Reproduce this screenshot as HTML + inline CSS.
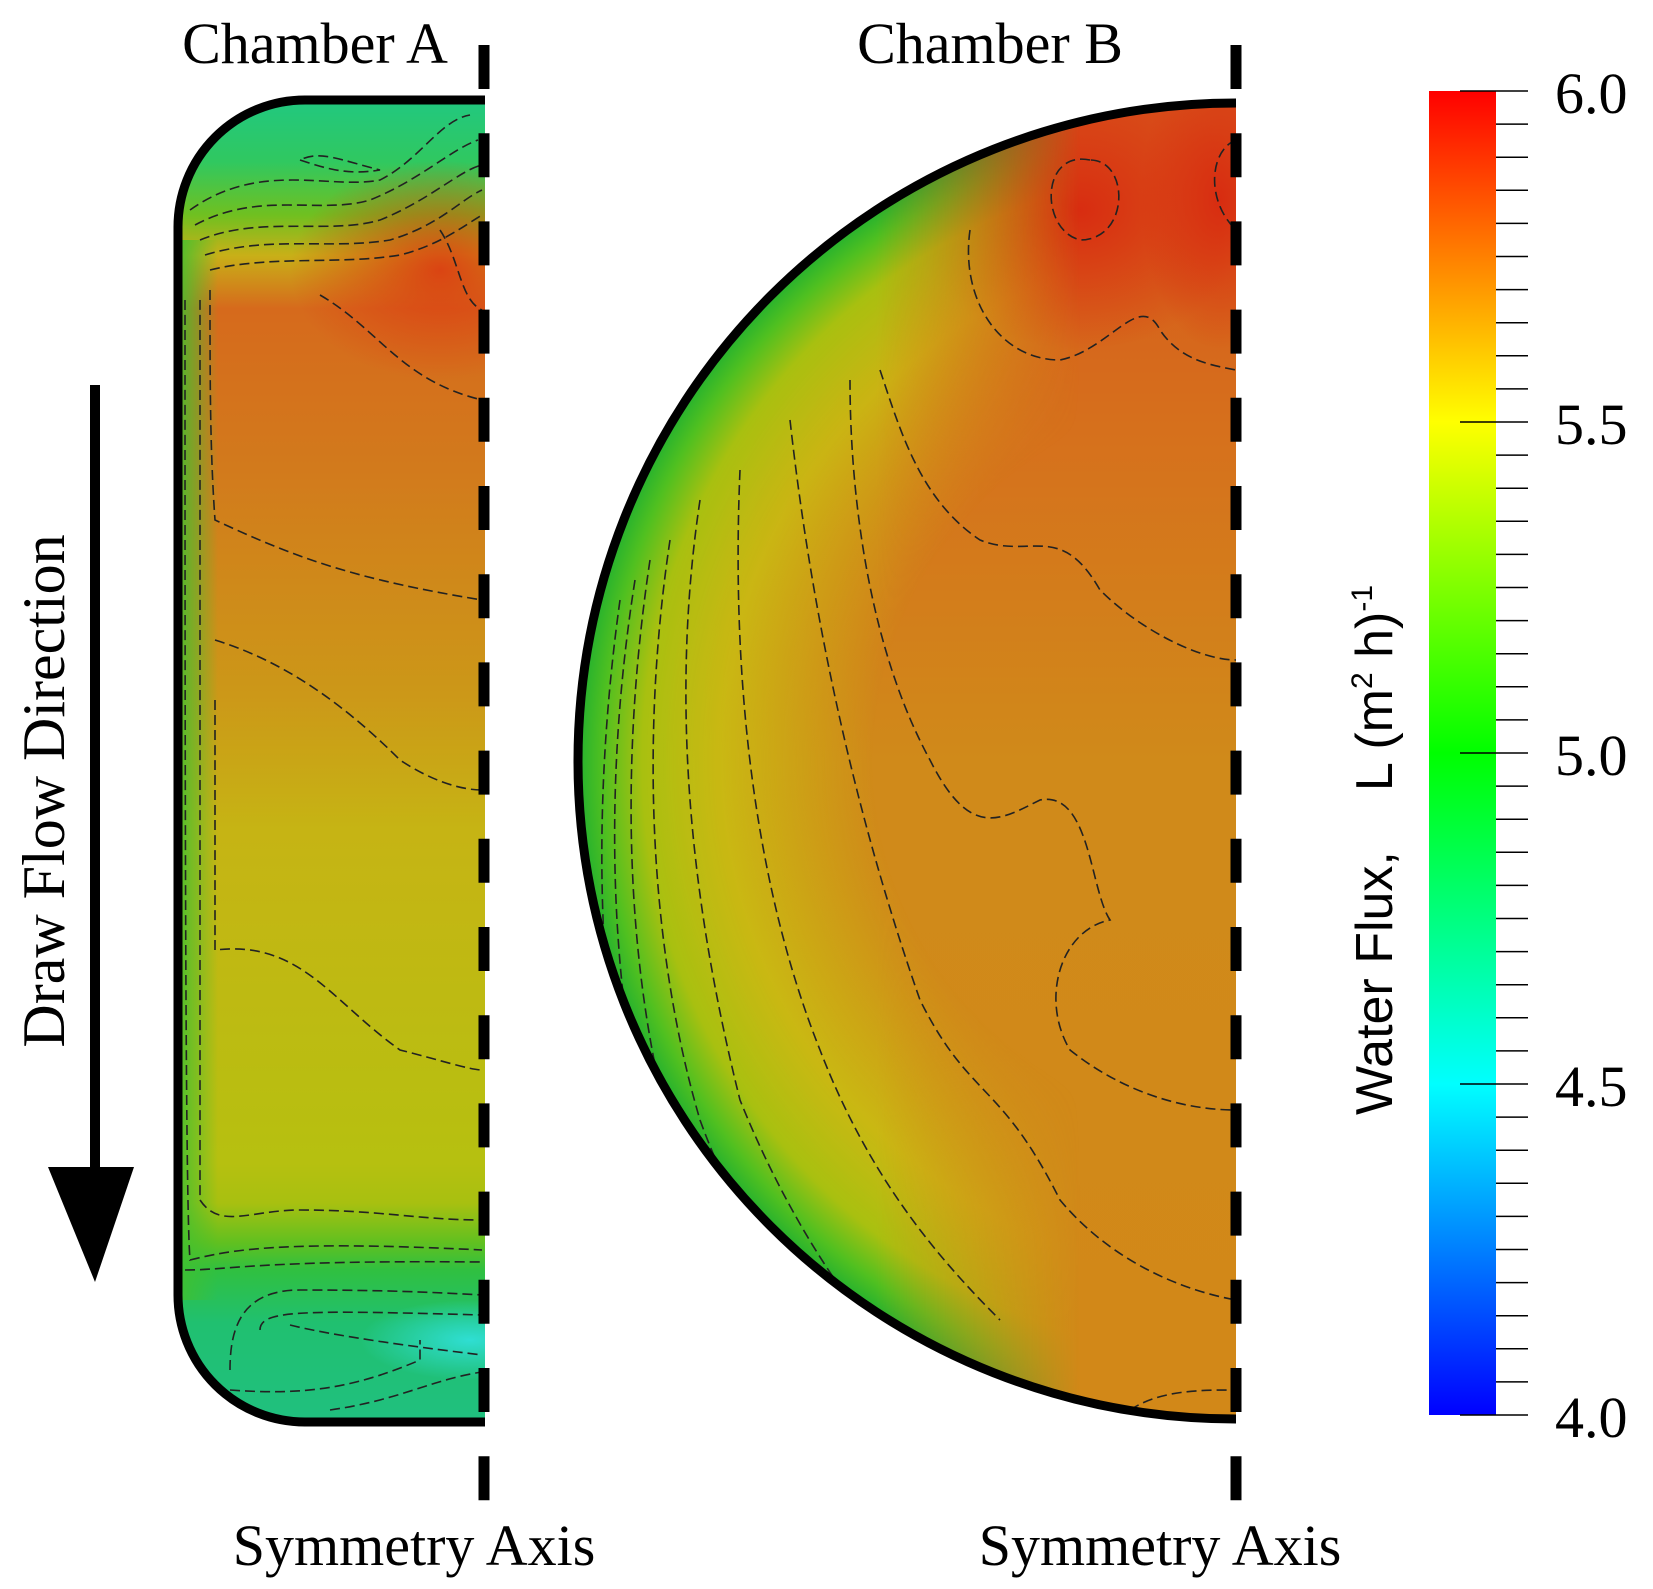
<!DOCTYPE html>
<html><head><meta charset="utf-8"><style>
html,body{margin:0;padding:0;background:#fff}
svg{display:block}
text{font-family:"Liberation Serif",serif;fill:#000}
</style></head><body>
<svg id="fig" width="1653" height="1589" viewBox="0 0 1653 1589" xmlns="http://www.w3.org/2000/svg">
<defs>
  <clipPath id="clipA"><path d="M305 100 L485 100 L485 1422 L305 1422 A127 127 0 0 1 178 1295 L178 227 A127 127 0 0 1 305 100 Z"/></clipPath>
  <clipPath id="clipB"><path d="M1236 103 A658 658 0 0 0 1236 1419 Z"/></clipPath>
  <linearGradient id="gA" x1="0" y1="0" x2="0" y2="1">
    <stop offset="0" stop-color="#20c882"/>
    <stop offset="0.05" stop-color="#30c860"/>
    <stop offset="0.09" stop-color="#70c020"/>
    <stop offset="0.12" stop-color="#c8b018"/>
    <stop offset="0.16" stop-color="#d66a1c"/>
    <stop offset="0.28" stop-color="#d27a1c"/>
    <stop offset="0.45" stop-color="#cc9818"/>
    <stop offset="0.55" stop-color="#c6b414"/>
    <stop offset="0.80" stop-color="#b6c010"/>
    <stop offset="0.83" stop-color="#a8c010"/>
    <stop offset="0.86" stop-color="#60c020"/>
    <stop offset="0.88" stop-color="#30c040"/>
    <stop offset="0.92" stop-color="#20c070"/>
    <stop offset="1" stop-color="#20c080"/>
  </linearGradient>
  <linearGradient id="gAedge" x1="0" y1="0" x2="1" y2="0">
    <stop offset="0" stop-color="#40c030" stop-opacity="0.9"/>
    <stop offset="1" stop-color="#40c030" stop-opacity="0"/>
  </linearGradient>
  <radialGradient id="gAred" cx="0.5" cy="0.5" r="0.5">
    <stop offset="0" stop-color="#dc3a12" stop-opacity="0.9"/>
    <stop offset="1" stop-color="#dc3a12" stop-opacity="0"/>
  </radialGradient>
  <radialGradient id="gAcyan" cx="0.5" cy="0.5" r="0.5">
    <stop offset="0" stop-color="#30e0d8" stop-opacity="0.95"/>
    <stop offset="1" stop-color="#30e0d8" stop-opacity="0"/>
  </radialGradient>
  <linearGradient id="gB" x1="0" y1="0" x2="0" y2="1">
    <stop offset="0" stop-color="#d8501a"/>
    <stop offset="0.25" stop-color="#d6701c"/>
    <stop offset="0.5" stop-color="#d08a1a"/>
    <stop offset="1" stop-color="#d28818"/>
  </linearGradient>
  <radialGradient id="gBrim" gradientUnits="userSpaceOnUse" cx="1236" cy="761" r="660">
    <stop offset="0" stop-color="#c8c010" stop-opacity="0"/>
    <stop offset="0.55" stop-color="#c8c010" stop-opacity="0"/>
    <stop offset="0.78" stop-color="#c8c012" stop-opacity="0.85"/>
    <stop offset="0.9" stop-color="#a8c010"/>
    <stop offset="0.96" stop-color="#50c020"/>
    <stop offset="1" stop-color="#20b030"/>
  </radialGradient>
  <linearGradient id="gBmask" x1="0" y1="0" x2="1" y2="0">
    <stop offset="0" stop-color="#fff"/>
    <stop offset="0.45" stop-color="#fff"/>
    <stop offset="0.75" stop-color="#000"/>
  </linearGradient>
  <mask id="mB"><rect x="570" y="90" width="680" height="1340" fill="url(#gBmask)"/></mask>
  <radialGradient id="gBred" cx="0.5" cy="0.5" r="0.5">
    <stop offset="0" stop-color="#d82a10" stop-opacity="0.95"/>
    <stop offset="1" stop-color="#d82a10" stop-opacity="0"/>
  </radialGradient>
  <linearGradient id="gBar" x1="0" y1="0" x2="0" y2="1">
    <stop offset="0" stop-color="#ff0000"/>
    <stop offset="0.125" stop-color="#ff8000"/>
    <stop offset="0.25" stop-color="#ffff00"/>
    <stop offset="0.5" stop-color="#00ff00"/>
    <stop offset="0.75" stop-color="#00ffff"/>
    <stop offset="1" stop-color="#0000ff"/>
  </linearGradient>
</defs>

<g>
  <g clip-path="url(#clipA)">
    <rect x="170" y="95" width="320" height="1335" fill="url(#gA)"/>
    <ellipse cx="440" cy="270" rx="150" ry="110" fill="url(#gAred)"/>
    <rect x="178" y="240" width="40" height="1060" fill="url(#gAedge)"/>
    <ellipse cx="470" cy="1340" rx="110" ry="40" fill="url(#gAcyan)"/>
    <g fill="none" stroke="#222" stroke-width="1.6" stroke-dasharray="10 5">
      <path d="M190 210 C260 160 330 190 380 180 C420 160 440 120 470 115"/>
      <path d="M195 225 C260 190 320 215 370 200 C420 180 450 150 478 140"/>
      <path d="M200 240 C260 215 330 235 380 220 C430 200 460 170 482 165"/>
      <path d="M205 255 C270 235 330 250 390 240 C440 225 460 200 482 190"/>
      <path d="M210 270 C270 255 340 265 400 255 C440 245 465 225 482 215"/>
      <path d="M300 160 C330 170 350 175 380 170 C340 160 320 150 300 160"/>
      <path d="M210 290 C210 380 210 450 215 520 C300 560 360 580 482 600"/>
      <path d="M320 295 C380 330 400 380 482 400"/>
      <path d="M440 230 C460 260 460 300 482 310"/>
      <path d="M215 640 C280 660 340 700 400 760 C430 780 460 790 482 790"/>
      <path d="M215 700 C215 800 215 900 215 950 C300 940 330 1000 400 1050 C440 1060 470 1070 482 1070"/>
      <path d="M200 300 C200 600 200 1000 200 1200 C220 1230 250 1210 300 1210 C380 1210 420 1220 482 1220"/>
      <path d="M185 300 C185 700 185 1200 190 1260 C230 1250 280 1240 482 1250"/>
      <path d="M185 1270 C230 1270 260 1260 482 1262"/>
      <path d="M230 1370 C230 1330 240 1290 300 1290 C380 1290 430 1292 482 1295"/>
      <path d="M260 1330 C260 1310 300 1310 482 1315"/>
      <path d="M290 1325 C330 1335 400 1345 482 1355"/>
      <path d="M230 1390 C300 1395 350 1390 420 1360 C420 1350 420 1345 420 1340"/>
      <path d="M330 1410 C400 1400 430 1380 482 1372"/>
    </g>
  </g>
  <path d="M485 100 L305 100 A127 127 0 0 0 178 227 L178 1295 A127 127 0 0 0 305 1422 L485 1422" fill="none" stroke="#000" stroke-width="9"/>
</g>

<g>
  <g clip-path="url(#clipB)">
    <rect x="570" y="95" width="680" height="1335" fill="url(#gB)"/>
    <ellipse cx="1080" cy="210" rx="170" ry="140" fill="url(#gBred)"/>
    <ellipse cx="1220" cy="200" rx="80" ry="150" fill="url(#gBred)"/>
    <circle cx="1236" cy="761" r="660" fill="url(#gBrim)" mask="url(#mB)"/>
    <g fill="none" stroke="#222" stroke-width="1.6" stroke-dasharray="10 5">
      <path d="M1090 160 C1040 150 1040 230 1080 240 C1130 240 1130 160 1090 160"/>
      <path d="M1236 140 C1210 150 1205 200 1236 230"/>
      <path d="M970 230 C960 300 1000 360 1060 360 C1110 350 1140 290 1160 330 C1180 360 1210 365 1236 370"/>
      <path d="M880 370 C900 430 920 500 980 540 C1030 560 1060 520 1100 590 C1140 630 1200 660 1236 660"/>
      <path d="M850 380 C850 500 870 650 930 760 C970 840 1000 820 1040 800 C1090 790 1090 890 1110 920 C1060 930 1040 1000 1070 1050 C1120 1090 1180 1110 1236 1110"/>
      <path d="M790 420 C810 600 850 800 920 1000 C970 1100 1000 1080 1060 1200 C1110 1260 1180 1290 1236 1300"/>
      <path d="M740 470 C730 700 760 900 820 1050 C870 1180 940 1260 1000 1320"/>
      <path d="M700 500 C670 700 690 900 740 1100 C780 1200 840 1300 900 1360"/>
      <path d="M670 540 C640 740 650 950 700 1120 C740 1230 800 1320 880 1380"/>
      <path d="M650 560 C620 760 625 960 670 1130 C700 1230 760 1320 850 1390"/>
      <path d="M635 580 C605 770 608 960 645 1130"/>
      <path d="M620 600 C595 780 595 960 625 1120"/>
      <path d="M1130 1410 C1160 1390 1200 1390 1236 1390"/>
    </g>
  </g>
  <path d="M1236 103 A658 658 0 0 0 1236 1419" fill="none" stroke="#000" stroke-width="9"/>
</g>

<line x1="484" y1="45" x2="484" y2="1512" stroke="#000" stroke-width="11" stroke-dasharray="44 44.2"/>
<line x1="1236" y1="45" x2="1236" y2="1512" stroke="#000" stroke-width="11" stroke-dasharray="44 44.2"/>

<text x="315" y="63" font-size="58" text-anchor="middle">Chamber A</text>
<text x="990" y="63" font-size="58" text-anchor="middle">Chamber B</text>
<text x="414" y="1565" font-size="58" text-anchor="middle">Symmetry Axis</text>
<text x="1160" y="1565" font-size="58" text-anchor="middle">Symmetry Axis</text>

<g>
  <rect x="90" y="385" width="10" height="790" fill="#000"/>
  <polygon points="48,1167 134,1167 95,1282" fill="#000"/>
</g>
<text transform="translate(64,791) rotate(-90)" font-size="60" text-anchor="middle">Draw Flow Direction</text>

<g id="colorbar">
  <rect x="1429" y="91" width="67" height="1324" fill="url(#gBar)"/>
  <g id="ticks"></g>
  <g id="ticklabels"></g>
</g>
<text transform="translate(1392,1115) rotate(-90)" style="font-family:'Liberation Sans',sans-serif" font-size="52">Water Flux,<tspan dx="60">L (m</tspan><tspan font-size="30" dy="-20">2</tspan><tspan dy="20"> h)</tspan><tspan font-size="30" dy="-20">-1</tspan></text>
</svg>
<script>
const tickValues = [6.0,5.95,5.9,5.85,5.8,5.75,5.7,5.65,5.6,5.55,5.5,5.45,5.4,5.35,5.3,5.25,5.2,5.15,5.1,5.05,5.0,4.95,4.9,4.85,4.8,4.75,4.7,4.65,4.6,4.55,4.5,4.45,4.4,4.35,4.3,4.25,4.2,4.15,4.1,4.05,4.0];
const majorTicks = [6.0,5.5,5.0,4.5,4.0];
const majorLabels = ["6.0","5.5","5.0","4.5","4.0"];
const vMin = 4.0, vMax = 6.0;
const barTop = 91, barBottom = 1415;
function yScale(v){ return barBottom - (v - vMin)/(vMax - vMin)*(barBottom - barTop); }
const NS = "http://www.w3.org/2000/svg";
const tg = document.getElementById('ticks');
tickValues.forEach(v=>{
  const isMajor = majorTicks.some(m=>Math.abs(m-v)<1e-6);
  const l = document.createElementNS(NS,'line');
  l.setAttribute('x1', isMajor ? 1460 : 1496);
  l.setAttribute('x2', 1528);
  l.setAttribute('y1', yScale(v)); l.setAttribute('y2', yScale(v));
  l.setAttribute('stroke','#000'); l.setAttribute('stroke-width','1.5');
  
  
  tg.appendChild(l);
});
const lg = document.getElementById('ticklabels');
majorTicks.forEach((v,i)=>{
  const t = document.createElementNS(NS,'text');
  t.setAttribute('x', 1555);
  t.setAttribute('y', yScale(v) + 22);
  t.setAttribute('font-size', '58');
  t.textContent = majorLabels[i];
  
  
  lg.appendChild(t);
});
</script>
</body></html>
